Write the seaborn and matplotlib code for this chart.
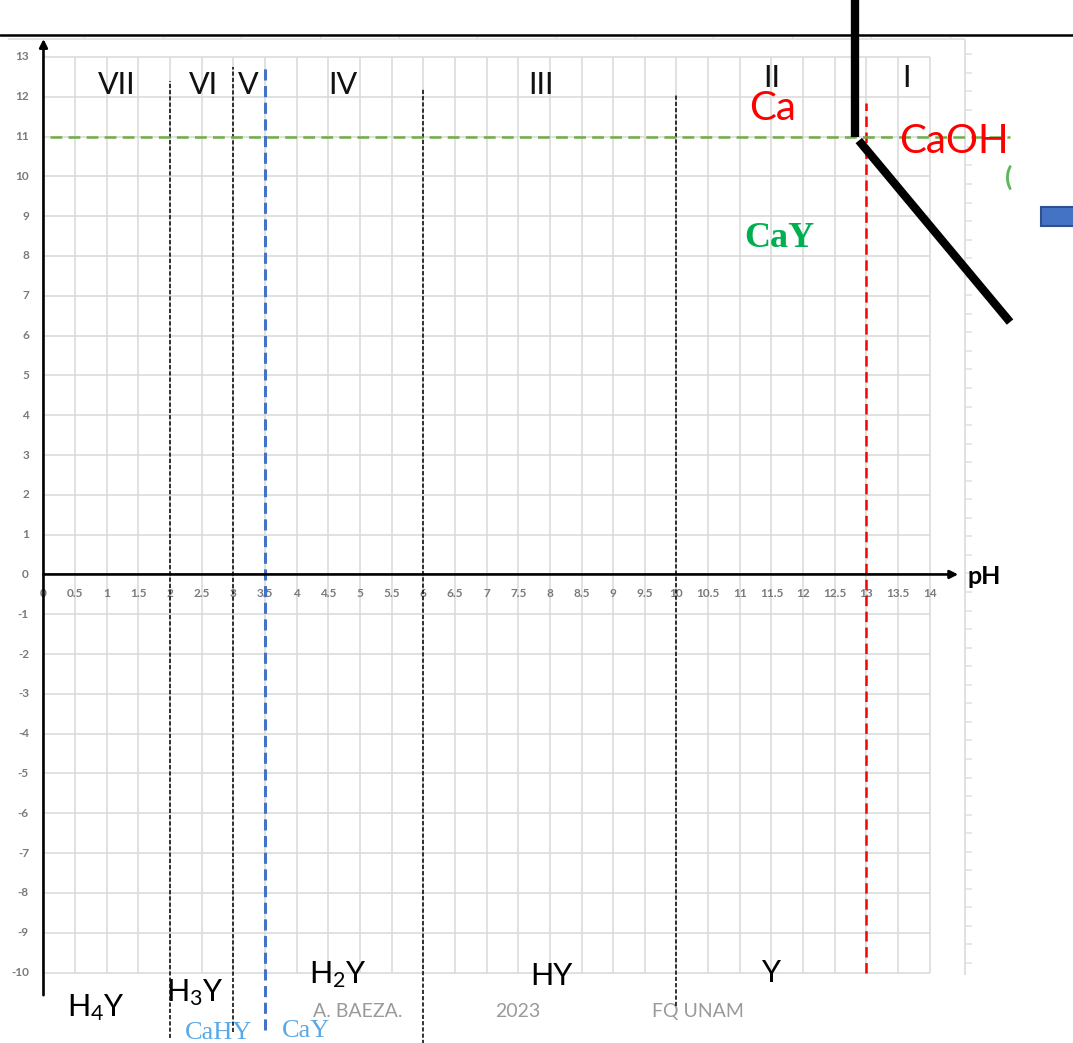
import numpy as np
import pandas as pd
import matplotlib
matplotlib.use("Agg")
import matplotlib.pyplot as plt
from matplotlib.patches import Rectangle
import seaborn as sns

# ---- diagram content -------------------------------------------------
# pH dividers between predominance zones of the EDTA (Y) species
black_bounds = [2.0, 3.0, 6.0, 10.0]
black_bound_top = [12.4, 12.75, 12.2, 12.05]
black_bound_bottom = [-11.65, -11.5, -11.8, -10.85]
blue_bound = 3.5
blue_bound_span = [12.75, -11.45]
red_bound = 13.0
red_bound_span = [11.85, -10.0]
green_level = 11.0
green_level_span = [0.1, 15.27]

# existence border of Ca (thick black polyline)
edge_x = [12.82, 12.82]
edge_y = [14.45, 11.0]
slope_x = [12.88, 15.27]
slope_y = [10.9, 6.34]

# zone numbers
roman_labels = ["VII", "VI", "V", "IV", "III", "II", "I"]
roman_x = [1.16, 2.52, 3.23, 4.73, 7.86, 11.5, 13.63]
roman_y = [12.3, 12.3, 12.3, 12.3, 12.3, 12.48, 12.48]

# ligand species along the bottom
ligand_labels = ["H$_4$Y", "H$_3$Y", "H$_2$Y", "HY", "Y"]
ligand_x = [0.83, 2.39, 4.65, 8.03, 11.5]
ligand_y = [-11.1, -10.73, -10.28, -10.32, -10.24]

# calcium complexes
complex_labels = ["CaHY", "CaY"]
complex_x = [2.77, 4.15]
complex_y = [-11.66, -11.62]

# calcium species in the upper region
ca_labels = ["Ca", "CaOH"]
ca_x = [11.52, 14.38]
ca_y = [11.42, 10.59]
cay_label = "CaY"
cay_x, cay_y = 11.63, 8.23

credit_labels = ["A. BAEZA.", "2023", "FQ UNAM"]
credit_x = [4.96, 7.5, 10.34]
credit_y = [-11.12, -11.12, -11.12]

x_ticks = np.arange(0, 14.01, 0.5)
x_tick_labels = [f"{v:g}" for v in x_ticks]
y_ticks = list(range(-10, 14))
y_tick_labels = [str(v) for v in y_ticks]

# ---- styling ---------------------------------------------------------
sns.set_theme(style="white")
plt.rcParams["font.family"] = ["Lato", "DejaVu Sans"]
plt.rcParams["mathtext.default"] = "regular"
plt.rcParams["lines.scale_dashes"] = False

GRID = "#d9d9d9"
GREY_TXT = "#7a7a7a"
GREEN_DASH = "#70ad47"
BLUE_DASH = "#4472c4"
RED = "#ff0000"
GREEN_TXT = "#00b050"
LIGHT_BLUE = "#5aa9e6"

fig = plt.figure(figsize=(10.73, 10.43), dpi=100)
ax = fig.add_axes([0, 0, 1, 1])
ax.set_xlim(-0.687, 16.264)
ax.set_ylim(-11.77, 14.43)
ax.axis("off")

# light grid
ax.vlines(x_ticks, -10, 13, color=GRID, lw=1.1, zorder=1)
ax.hlines(y_ticks, 0, 14, color=GRID, lw=1.1, zorder=1)

# frame decorations at the top and on the right
ax.axhline(13.55, color="black", lw=1.8, zorder=2)
ax.hlines(13.44, -0.56, 14.56, color="#e0e0e0", lw=1.2, zorder=1)
top_marks = 0.64 + 1.243 * np.arange(12)
ax.vlines(top_marks, 13.44, 13.53, color="#e0e0e0", lw=1.0, zorder=1)
ax.vlines(14.56, -10.06, 13.44, color="#e0e0e0", lw=1.4, zorder=1)
side_marks = np.linspace(13.07, -9.76, 50)
ax.hlines(side_marks, 14.56, 14.67, color="#e0e0e0", lw=1.1, zorder=1)

# axes with arrows
ax.annotate("", xy=(0, 13.45), xytext=(0, -10.57),
            arrowprops=dict(arrowstyle="-|>", lw=1.9, color="black",
                            mutation_scale=12, shrinkA=0, shrinkB=0), zorder=5)
ax.annotate("", xy=(14.45, 0), xytext=(0, 0),
            arrowprops=dict(arrowstyle="-|>", lw=1.9, color="black",
                            mutation_scale=12, shrinkA=0, shrinkB=0), zorder=5)
ax.text(14.6, -0.24, "pH", fontsize=18, fontweight="bold", ha="left",
        va="baseline", color="black")

for v, lab in zip(x_ticks, x_tick_labels):
    ax.text(v, -0.47, lab, fontsize=8.5, fontweight="bold", color=GREY_TXT,
            ha="center", va="center", zorder=3)
for v, lab in zip(y_ticks, y_tick_labels):
    ax.text(-0.23, v, lab, fontsize=8.5, fontweight="bold", color=GREY_TXT,
            ha="right", va="center", zorder=3)

# dividers
for bx, top, bot in zip(black_bounds, black_bound_top, black_bound_bottom):
    ax.vlines(bx, bot, top, color="#111111", lw=1.2,
              linestyles=[(0, (3, 1.5))], zorder=4)
ax.vlines(blue_bound, blue_bound_span[1], blue_bound_span[0], color=BLUE_DASH,
          lw=2.2, linestyles=[(0, (8, 4))], zorder=4)
ax.vlines(red_bound, red_bound_span[1], red_bound_span[0], color=RED,
          lw=1.8, linestyles=[(0, (7.5, 4))], zorder=4)
ax.hlines(green_level, green_level_span[0], green_level_span[1],
          color=GREEN_DASH, lw=1.8, linestyles=[(0, (8.5, 4.5))], zorder=4)

# Ca existence border
sns.lineplot(x=edge_x, y=edge_y, sort=False, estimator=None, errorbar=None,
             color="black", lw=6, solid_capstyle="butt", ax=ax, zorder=6)
sns.lineplot(x=slope_x, y=slope_y, sort=False, estimator=None, errorbar=None,
             color="black", lw=6, solid_capstyle="butt", ax=ax, zorder=6)

# labels
for lab, x, y in zip(roman_labels, roman_x, roman_y):
    ax.text(x, y, lab, fontsize=22, color="#111111", ha="center", va="center")
for lab, x, y in zip(ligand_labels, ligand_x, ligand_y):
    ax.text(x, y, lab, fontsize=22, color="black", ha="center", va="baseline")
for lab, x, y in zip(complex_labels, complex_x, complex_y):
    ax.text(x, y, lab, fontsize=19, color=LIGHT_BLUE, ha="center",
            va="baseline", family="Liberation Serif")
for lab, x, y in zip(ca_labels, ca_x, ca_y):
    ax.text(x, y, lab, fontsize=29, color=RED, ha="center", va="baseline",
            zorder=7)
ax.text(cay_x, cay_y, cay_label, fontsize=26, color=GREEN_TXT, ha="center",
        va="baseline", family="Liberation Serif", fontweight="bold")
for lab, x, y in zip(credit_labels, credit_x, credit_y):
    ax.text(x, y, lab, fontsize=14, color="#9a9a9a", ha="center",
            va="baseline")

# partly hidden glyph and shape at the right edge
ax.text(15.19, 9.98, "(", fontsize=19, color="#5cb85c", ha="left",
        va="center", fontweight="bold")
ax.add_patch(Rectangle((15.76, 8.75), 0.6, 0.48, facecolor=BLUE_DASH,
                       edgecolor="#2f528f", lw=1.5, zorder=3))

fig.savefig("out.png", dpi=100)
